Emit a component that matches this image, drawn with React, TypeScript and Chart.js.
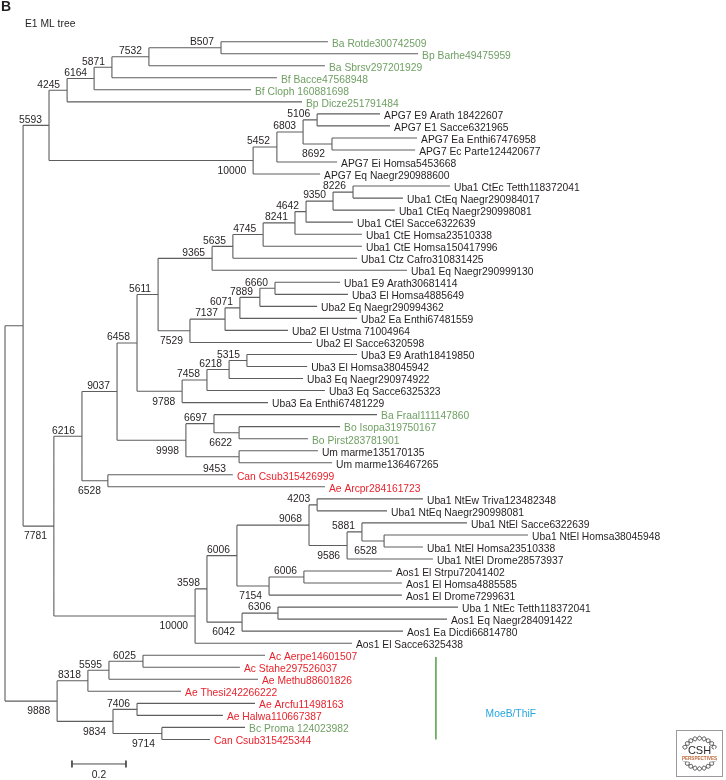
import React, { useEffect, useRef } from 'react';
import { Chart, registerables } from 'chart.js';

Chart.register(...registerables);

// ---------- DATA ----------
const leafNames: string[] = [
  'Ba Rotde300742509', 'Bp Barhe49475959', 'Ba Sbrsv297201929', 'Bf Bacce47568948',
  'Bf Cloph 160881698', 'Bp Dicze251791484', 'APG7 E9 Arath 18422607', 'APG7 E1 Sacce6321965',
  'APG7 Ea Enthi67476958', 'APG7 Ec Parte124420677', 'APG7 Ei Homsa5453668', 'APG7 Eq Naegr290988600',
  'Uba1 CtEc Tetth118372041', 'Uba1 CtEq Naegr290984017', 'Uba1 CtEq Naegr290998081', 'Uba1 CtEl Sacce6322639',
  'Uba1 CtE Homsa23510338', 'Uba1 CtE Homsa150417996', 'Uba1 Ctz Cafro310831425', 'Uba1 Eq Naegr290999130',
  'Uba1 E9 Arath30681414', 'Uba3 El Homsa4885649', 'Uba2 Eq Naegr290994362', 'Uba2 Ea Enthi67481559',
  'Uba2 El Ustma 71004964', 'Uba2 El Sacce6320598', 'Uba3 E9 Arath18419850', 'Uba3 El Homsa38045942',
  'Uba3 Eq Naegr290974922', 'Uba3 Eq Sacce6325323', 'Uba3 Ea Enthi67481229', 'Ba Fraal111147860',
  'Bo Isopa319750167', 'Bo Pirst283781901', 'Um marme135170135', 'Um marme136467265',
  'Can Csub315426999', 'Ae Arcpr284161723', 'Uba1 NtEw Triva123482348', 'Uba1 NtEq Naegr290998081',
  'Uba1 NtEl Sacce6322639', 'Uba1 NtEl Homsa38045948', 'Uba1 NtEl Homsa23510338', 'Uba1 NtEl Drome28573937',
  'Aos1 El Strpu72041402', 'Aos1 El Homsa4885585', 'Aos1 El Drome7299631', 'Uba 1 NtEc Tetth118372041',
  'Aos1 Eq Naegr284091422', 'Aos1 Ea Dicdi66814780', 'Aos1 El Sacce6325438', 'Ac Aerpe14601507',
  'Ac Stahe297526037', 'Ae Methu88601826', 'Ae Thesi242266222', 'Ae Arcfu11498163',
  'Ae Halwa110667387', 'Bc Proma 124023982', 'Can Csub315425344',
];

// g = bacteria, k = eukaryote / other, r = archaea / Can
const leafGroup: string[] = (
  'gggggg' + 'kkkkkkkkkkkkkkkkkkkkkkkkk' + 'ggg' + 'kk' + 'rr' + 'kkkkkkkkkkkkk' + 'rrrrrr' + 'g' + 'r'
).split('');

// distance from root (substitutions per site)
const leafDepth: number[] = [
  1.196, 1.530, 1.185, 1.007, 0.911, 1.100, 1.389, 1.426, 1.526, 1.519, 1.230, 1.167,
  1.648, 1.474, 1.444, 1.289, 1.322, 1.322, 1.304, 1.489, 1.241, 1.270, 1.156, 1.304,
  1.048, 1.137, 1.304, 1.119, 1.104, 1.185, 0.974, 1.378, 1.241, 1.122, 1.159, 1.211,
  0.844, 1.185, 1.548, 1.415, 1.711, 1.937, 1.548, 1.585, 1.433, 1.470, 1.470, 1.678,
  1.637, 1.474, 1.285, 0.963, 0.870, 0.937, 0.652, 0.926, 0.807, 0.889, 0.759,
];

// internal nodes: [id, depth, upper child, lower child] (numbers = leaf index)
const nodes: [string, number, string | number, string | number][] = [
  ['root', 0, 'n23', 'n57'],
  ['n23', 0.067, 'n49', 'n54'],
  ['n49', 0.163, 'n67', 'n253'],
  ['n67', 0.230, 'n94', 5],
  ['n94', 0.330, 'n112', 4],
  ['n112', 0.396, 'n149', 3],
  ['n149', 0.533, 'n221', 2],
  ['n221', 0.800, 0, 1],
  ['n253', 0.919, 'n277', 11],
  ['n277', 1.007, 'n303', 10],
  ['n303', 1.104, 'n317', 'n332'],
  ['n317', 1.156, 6, 7],
  ['n332', 1.211, 8, 9],
  ['n54', 0.181, 'n82', 'n195'],
  ['n82', 0.285, 'n117', 'n108'],
  ['n117', 0.415, 'n137', 'n186'],
  ['n137', 0.489, 'n158', 'n182'],
  ['n158', 0.567, 'n212', 'n190'],
  ['n212', 0.767, 'n233', 19],
  ['n233', 0.844, 'n263', 18],
  ['n263', 0.956, 'n295', 17],
  ['n295', 1.074, 'n306', 16],
  ['n306', 1.115, 'n333', 15],
  ['n333', 1.215, 'n353', 14],
  ['n353', 1.289, 12, 13],
  ['n190', 0.685, 'n225', 25],
  ['n225', 0.815, 'n240', 24],
  ['n240', 0.870, 'n260', 23],
  ['n260', 0.944, 'n275', 22],
  ['n275', 1.000, 20, 21],
  ['n182', 0.656, 'n207', 30],
  ['n207', 0.748, 'n229', 29],
  ['n229', 0.830, 'n247', 28],
  ['n247', 0.896, 26, 27],
  ['n186', 0.670, 'n214', 'n239u'],
  ['n214', 0.774, 31, 'n239b'],
  ['n239b', 0.867, 32, 33],
  ['n239u', 0.867, 34, 35],
  ['n108', 0.381, 36, 37],
  ['n195', 0.704, 'n207L', 50],
  ['n207L', 0.748, 'n237', 'n242'],
  ['n237', 0.859, 'n309', 'n269'],
  ['n309', 1.126, 'n317L', 'n347'],
  ['n317L', 1.156, 38, 39],
  ['n347', 1.267, 'n362', 43],
  ['n362', 1.322, 40, 'n384'],
  ['n384', 1.404, 41, 42],
  ['n269', 0.978, 'n304', 46],
  ['n304', 1.107, 44, 45],
  ['n242', 0.878, 'n278', 49],
  ['n278', 1.011, 47, 48],
  ['n57', 0.193, 'n88', 'n113'],
  ['n88', 0.307, 'n109', 54],
  ['n109', 0.385, 'n143', 53],
  ['n143', 0.511, 51, 52],
  ['n113', 0.400, 'n137a', 'n162'],
  ['n137a', 0.489, 55, 56],
  ['n162', 0.581, 57, 58],
];

// bootstrap support: [node, value, side of its branch]
const bootstrap: [string | number, string, 'a' | 'b'][] = [
  ['n49', '5593', 'a'], ['n54', '7781', 'b'], ['n67', '4245', 'a'], ['n253', '10000', 'b'],
  ['n94', '6164', 'a'], ['n112', '5871', 'a'], ['n149', '7532', 'a'], ['n221', 'B507', 'a'],
  ['n277', '5452', 'a'], ['n303', '6803', 'a'], ['n317', '5106', 'a'], ['n332', '8692', 'b'],
  ['n82', '6216', 'a'], ['n195', '10000', 'b'], ['n117', '9037', 'a'], ['n108', '6528', 'b'],
  ['n137', '6458', 'a'], ['n186', '9998', 'b'], ['n158', '5611', 'a'], ['n182', '9788', 'b'],
  ['n212', '9365', 'a'], ['n190', '7529', 'b'], ['n233', '5635', 'a'], ['n263', '4745', 'a'],
  ['n295', '8241', 'a'], ['n306', '4642', 'a'], ['n333', '9350', 'a'], ['n353', '8226', 'a'],
  ['n275', '6660', 'a'], ['n260', '7889', 'a'], ['n240', '6071', 'a'], ['n225', '7137', 'a'],
  ['n247', '5315', 'a'], ['n229', '6218', 'a'], ['n207', '7458', 'a'], ['n214', '6697', 'a'],
  ['n239b', '6622', 'b'], [36, '9453', 'a'], ['n237', '6006', 'a'], ['n309', '9068', 'a'],
  ['n317L', '4203', 'a'], ['n347', '9586', 'b'], ['n362', '5881', 'a'], ['n384', '6528', 'b'],
  ['n269', '7154', 'b'], ['n304', '6006', 'a'], ['n207L', '3598', 'a'], ['n242', '6042', 'b'],
  ['n278', '6306', 'a'], ['n88', '8318', 'a'], ['n113', '9834', 'b'], ['n109', '5595', 'a'],
  ['n143', '6025', 'a'], ['n137a', '7406', 'a'], ['n162', '9714', 'b'], ['n57', '9888', 'b'],
];

const cladeName = 'MoeB/ThiF';
const cladeLeaves: [number, number] = [51, 58];
const cladeBarDepth = 1.596;
const cladeTextDepth = 1.78;
const cladeTextRow = 55.9;

const scaleBarStart = 0.248;
const scaleBarLength = 0.2;
const scaleBarRow = 60.04;
const scaleBarLabel = '0.2';

const panelLetter = 'B';
const treeTitle = 'E1 ML tree';

// ---------- STYLE ----------
const W = 726;
const H = 780;
const FONT = '"Liberation Sans", Arial, Helvetica, sans-serif';
const FS = 10.3;
const LINE = '#5e5e5e';
const TXT = '#231f20';
const GROUP_COLOR: Record<string, string> = { g: '#6f9f63', k: '#231f20', r: '#e8232d' };

type P = { x: number; y: number | null };

function layoutTree() {
  const map = new Map<string, [string, number, string | number, string | number]>();
  nodes.forEach((n) => map.set(n[0], n));
  const pos = new Map<string | number, { x: number; y: number }>();
  const place = (id: string | number): { x: number; y: number } => {
    if (typeof id === 'number') {
      const p = { x: leafDepth[id], y: id };
      pos.set(id, p);
      return p;
    }
    const n = map.get(id)!;
    const a = place(n[2]);
    const b = place(n[3]);
    const p = { x: n[1], y: (a.y + b.y) / 2 };
    pos.set(id, p);
    return p;
  };
  place('root');
  const parent = new Map<string | number, string>();
  nodes.forEach((n) => {
    parent.set(n[2], n[0]);
    parent.set(n[3], n[0]);
  });
  const segs: P[] = [];
  nodes.forEach((n) => {
    const p = pos.get(n[0])!;
    const a = pos.get(n[2])!;
    const b = pos.get(n[3])!;
    segs.push({ x: p.x, y: a.y }, { x: p.x, y: b.y }, { x: p.x, y: null });
    segs.push({ x: p.x, y: a.y }, { x: a.x, y: a.y }, { x: a.x, y: null });
    segs.push({ x: p.x, y: b.y }, { x: b.x, y: b.y }, { x: b.x, y: null });
  });
  return { pos, segs, parent };
}

export default function App() {
  const ref = useRef<HTMLCanvasElement | null>(null);

  useEffect(() => {
    const canvas = ref.current;
    if (!canvas) return;
    const { pos, segs } = layoutTree();

    const scaleBar: P[] = [
      { x: scaleBarStart, y: scaleBarRow - 0.28 }, { x: scaleBarStart, y: scaleBarRow + 0.28 }, { x: scaleBarStart, y: null },
      { x: scaleBarStart, y: scaleBarRow }, { x: scaleBarStart + scaleBarLength, y: scaleBarRow }, { x: scaleBarStart + scaleBarLength, y: null },
      { x: scaleBarStart + scaleBarLength, y: scaleBarRow - 0.28 }, { x: scaleBarStart + scaleBarLength, y: scaleBarRow + 0.28 },
    ];
    const cladeBar: P[] = [
      { x: cladeBarDepth, y: cladeLeaves[0] + 0.15 },
      { x: cladeBarDepth, y: cladeLeaves[1] },
    ];

    const textPlugin = {
      id: 'treeText',
      afterDatasetsDraw(chart: any) {
        const ctx: CanvasRenderingContext2D = chart.ctx;
        const xs = chart.scales.x;
        const ys = chart.scales.y;
        ctx.save();
        ctx.font = `${FS}px ${FONT}`;
        ctx.textBaseline = 'middle';
        // leaf labels
        ctx.textAlign = 'left';
        leafNames.forEach((name, i) => {
          ctx.fillStyle = GROUP_COLOR[leafGroup[i]];
          ctx.fillText(name, xs.getPixelForValue(leafDepth[i]) + 4, ys.getPixelForValue(i) + 2);
        });
        // bootstrap values
        ctx.fillStyle = TXT;
        ctx.textAlign = 'right';
        bootstrap.forEach(([id, val, side]) => {
          const p = pos.get(id);
          if (!p) return;
          const px = xs.getPixelForValue(p.x) - 7;
          const py = ys.getPixelForValue(p.y) + (side === 'a' ? -5.5 : 10.5);
          ctx.fillText(val, px, py);
        });
        // clade label
        ctx.textAlign = 'left';
        ctx.fillStyle = '#27a6de';
        ctx.fillText(cladeName, xs.getPixelForValue(cladeTextDepth), ys.getPixelForValue(cladeTextRow));
        // scale bar label
        ctx.fillStyle = TXT;
        ctx.textAlign = 'center';
        ctx.fillText(scaleBarLabel, xs.getPixelForValue(scaleBarStart + scaleBarLength / 2), ys.getPixelForValue(scaleBarRow) + 11);
        // panel letter and title
        ctx.textAlign = 'left';
        ctx.font = `bold 14px ${FONT}`;
        ctx.fillText(panelLetter, 1, 7);
        ctx.font = `${FS}px ${FONT}`;
        ctx.fillText(treeTitle, 25, 24);
        // logo
        const bx = 676.5, by = 730.5, bw = 46, bh = 46;
        ctx.strokeStyle = '#9a9a9a';
        ctx.lineWidth = 1;
        ctx.strokeRect(bx, by, bw, bh);
        const cx = bx + bw / 2, cy = by + bh / 2;
        ctx.strokeStyle = '#3a3a3a';
        ctx.lineWidth = 0.9;
        for (let s = 0; s < 2; s++) {
          ctx.beginPath();
          for (let k = 0; k <= 240; k++) {
            const t = (k / 240) * Math.PI * 2;
            const r = 16 + (s === 0 ? 2.2 : -2.2) * Math.sin(t * 11);
            const x = cx + r * Math.cos(t);
            const y = cy + r * Math.sin(t) * 0.95;
            if (Math.abs(Math.sin(t)) < 0.3 && Math.cos(t) !== 0 && Math.abs(y - cy) < 5) {
              ctx.moveTo(x, y);
              continue;
            }
            if (k === 0) ctx.moveTo(x, y);
            else ctx.lineTo(x, y);
          }
          ctx.stroke();
        }
        ctx.fillStyle = '#ffffff';
        ctx.fillRect(cx - 17, cy + 2, 34, 6);
        ctx.fillStyle = '#2b2b2b';
        ctx.textAlign = 'center';
        ctx.font = `11px ${FONT}`;
        ctx.fillText('CSH', cx, cy - 3);
        ctx.fillStyle = '#c0693a';
        ctx.font = `bold 4.6px ${FONT}`;
        ctx.fillText('PERSPECTIVES', cx, cy + 5);
        ctx.restore();
      },
    };

    const chart = new Chart(canvas, {
      type: 'scatter',
      data: {
        datasets: [
          {
            data: segs as any,
            showLine: true,
            spanGaps: false,
            borderColor: LINE,
            borderWidth: 1.1,
            pointRadius: 0,
            pointHoverRadius: 0,
          },
          {
            data: cladeBar as any,
            showLine: true,
            borderColor: '#5aa552',
            borderWidth: 1.6,
            pointRadius: 0,
          },
          {
            data: scaleBar as any,
            showLine: true,
            spanGaps: false,
            borderColor: '#4a4a4a',
            borderWidth: 1,
            pointRadius: 0,
          },
        ],
      },
      options: {
        responsive: false,
        animation: false,
        layout: { padding: 0 },
        plugins: { legend: { display: false }, tooltip: { enabled: false }, title: { display: false } },
        events: [],
        scales: {
          x: { type: 'linear', display: false, min: -5 / 270, max: (W - 5) / 270 },
          y: { type: 'linear', display: false, reverse: true, min: -41.7 / 12.03, max: (H - 41.7) / 12.03 },
        },
      },
      plugins: [textPlugin],
    });
    return () => chart.destroy();
  }, []);

  return (
    <div style={{ position: 'absolute', left: 0, top: 0, width: W, height: H, background: '#fff' }}>
      <canvas ref={ref} width={W} height={H} style={{ display: 'block' }} />
    </div>
  );
}
